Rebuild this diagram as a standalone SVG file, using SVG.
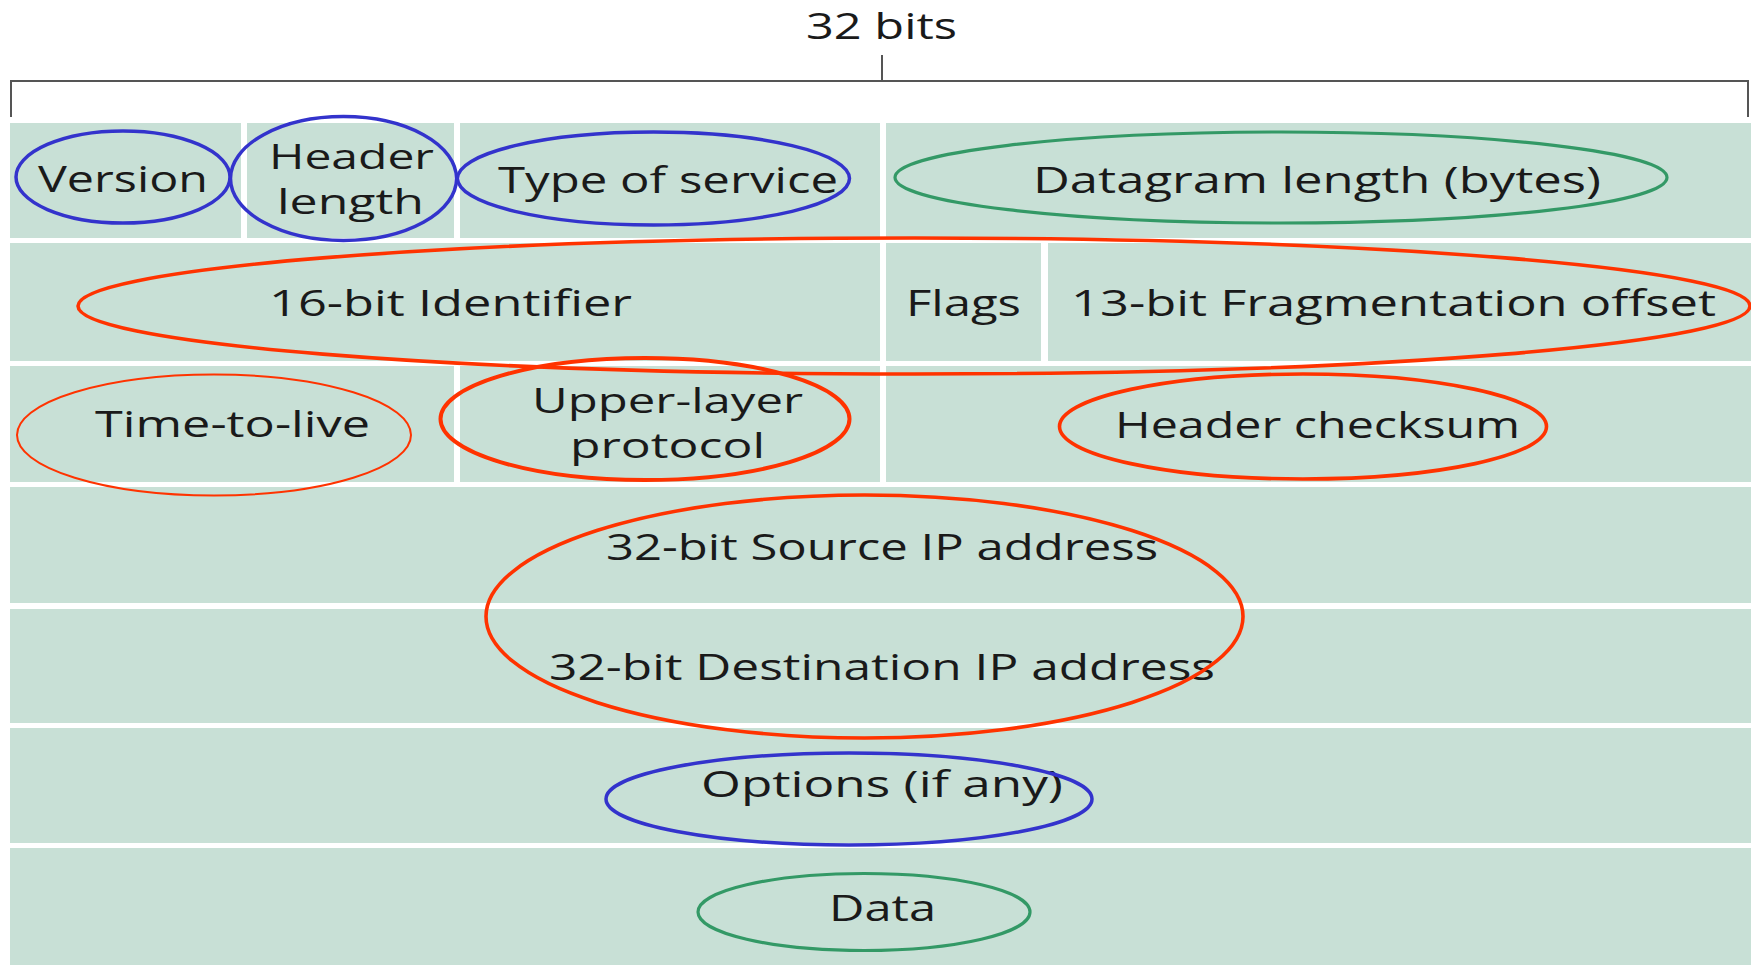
<svg xmlns="http://www.w3.org/2000/svg" width="1751" height="965" viewBox="0 0 1751 965">
<style>
.cell{fill:#c8e0d6}
.t{font-family:"Open Sans","Noto Sans","DejaVu Sans",sans-serif;font-size:37px;fill:#1a1a1a}
.t2{font-size:35px}
.br{stroke:#555;stroke-width:2;fill:none}
.eb{fill:none;stroke:#3333cc;stroke-width:3.5}
.er{fill:none;stroke:#ff3300;stroke-width:3.6}
.eg{fill:none;stroke:#339966;stroke-width:3.2}
</style>
<rect width="1751" height="965" fill="#ffffff"/>
<g id="bracket" class="br">
<path d="M11,117 V81 H1748 V117"/>
<path d="M882,55 V81"/>
</g>
<text class="t" x="806" y="39" textLength="151" lengthAdjust="spacingAndGlyphs">32 bits</text>
<g id="version"><rect class="cell" x="10" y="123" width="231" height="115"/><text class="t" x="38" y="192" textLength="170" lengthAdjust="spacingAndGlyphs">Version</text></g>
<g id="header-length"><rect class="cell" x="247" y="123" width="207" height="115"/><text class="t t2" x="269" y="169" textLength="165" lengthAdjust="spacingAndGlyphs">Header</text><text class="t t2" x="277" y="214" textLength="147" lengthAdjust="spacingAndGlyphs">length</text></g>
<g id="type-of-service"><rect class="cell" x="460" y="123" width="420" height="115"/><text class="t" x="498" y="193" textLength="340" lengthAdjust="spacingAndGlyphs">Type of service</text></g>
<g id="datagram-length"><rect class="cell" x="886" y="123" width="865" height="115"/><text class="t" x="1033" y="193" textLength="568" lengthAdjust="spacingAndGlyphs">Datagram length (bytes)</text></g>
<g id="identifier"><rect class="cell" x="10" y="243" width="870" height="118"/><text class="t" x="269" y="316" textLength="363" lengthAdjust="spacingAndGlyphs">16-bit Identifier</text></g>
<g id="flags"><rect class="cell" x="886" y="243" width="155" height="118"/><text class="t" x="906" y="316" textLength="115" lengthAdjust="spacingAndGlyphs">Flags</text></g>
<g id="fragment-offset"><rect class="cell" x="1048" y="243" width="703" height="118"/><text class="t" x="1071" y="316" textLength="645" lengthAdjust="spacingAndGlyphs">13-bit Fragmentation offset</text></g>
<g id="ttl"><rect class="cell" x="10" y="366" width="444" height="116"/><text class="t" x="95" y="437" textLength="275" lengthAdjust="spacingAndGlyphs">Time-to-live</text></g>
<g id="upper-layer-protocol"><rect class="cell" x="460" y="366" width="420" height="116"/><text class="t t2" x="532" y="413" textLength="271" lengthAdjust="spacingAndGlyphs">Upper-layer</text><text class="t t2" x="570" y="458" textLength="195" lengthAdjust="spacingAndGlyphs">protocol</text></g>
<g id="header-checksum"><rect class="cell" x="886" y="366" width="865" height="116"/><text class="t" x="1115" y="438" textLength="405" lengthAdjust="spacingAndGlyphs">Header checksum</text></g>
<g id="source-ip"><rect class="cell" x="10" y="487" width="1741" height="116"/><text class="t" x="606" y="560" textLength="552" lengthAdjust="spacingAndGlyphs">32-bit Source IP address</text></g>
<g id="destination-ip"><rect class="cell" x="10" y="609" width="1741" height="114"/><text class="t" x="549" y="680" textLength="666" lengthAdjust="spacingAndGlyphs">32-bit Destination IP address</text></g>
<g id="options"><rect class="cell" x="10" y="728" width="1741" height="115"/><text class="t" x="701" y="797" textLength="362" lengthAdjust="spacingAndGlyphs">Options (if any)</text></g>
<g id="data"><rect class="cell" x="10" y="848" width="1741" height="117"/><text class="t" x="829" y="921" textLength="107" lengthAdjust="spacingAndGlyphs">Data</text></g>
<g id="highlights">
<ellipse class="eb" cx="123" cy="177" rx="107" ry="46"/>
<ellipse class="eb" cx="343.5" cy="178.5" rx="113" ry="62"/>
<ellipse class="eb" cx="653.5" cy="178.5" rx="196" ry="46.5"/>
<ellipse class="eg" cx="1281" cy="177.5" rx="386" ry="45.5"/>
<ellipse class="er" cx="914" cy="306" rx="836" ry="68"/>
<ellipse class="er" cx="214" cy="435" rx="197" ry="60.5" style="stroke-width:2"/>
<ellipse class="er" cx="645" cy="419" rx="204.5" ry="61" style="stroke-width:4"/>
<ellipse class="er" cx="1303" cy="426.5" rx="243.5" ry="52.5"/>
<ellipse class="er" cx="864.5" cy="616.5" rx="378.5" ry="121.5"/>
<ellipse class="eb" cx="849" cy="799" rx="243" ry="46"/>
<ellipse class="eg" cx="864" cy="912" rx="166" ry="38.5"/>
</g>
</svg>
